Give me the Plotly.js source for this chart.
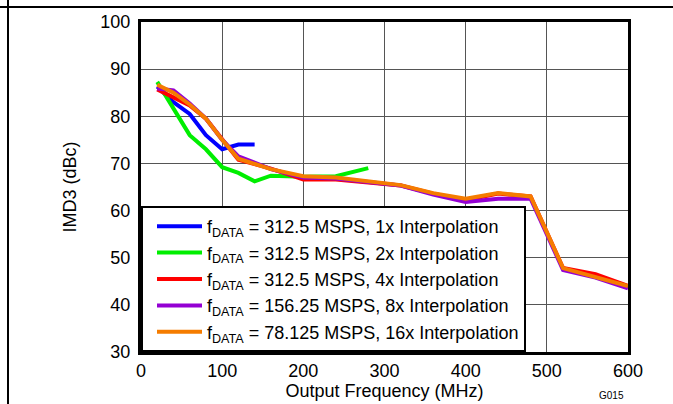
<!DOCTYPE html>
<html>
<head>
<meta charset="utf-8">
<script src="https://cdn.plot.ly/plotly-3.0.1.min.js"></script>
<style>
html,body{margin:0;padding:0;background:#fff;}
#chart{width:673px;height:404px;}
</style>
</head>
<body>
<div id="chart"></div>
<script>
// Output frequency (MHz)
const freqBlue = [20, 40, 60, 80, 100, 120, 140];
const imdBlue = [86.3, 83, 80.5, 76, 73, 74, 74];

const freqGreen = [20, 40, 60, 80, 100, 120, 140, 160, 200, 240, 280];
const imdGreen = [87.3, 81.5, 76, 73, 69.2, 68, 66.2, 67.4, 67.2, 67.3, 69];

const freqRed = [20, 40, 60, 80, 100, 120, 160, 200, 240, 280, 320, 360, 400, 440, 480, 520, 560, 600];
const imdRed = [85.7, 84, 82.3, 79.5, 75.3, 70.8, 68.9, 66.6, 66.6, 66, 65.3, 63.6, 62.2, 63.6, 63, 47.8, 46.5, 44];

const freqPurple = [20, 40, 60, 80, 100, 120, 160, 200, 240, 280, 320, 360, 400, 440, 480, 520, 560, 600];
const imdPurple = [85.9, 85.5, 82.7, 79.5, 75, 71.5, 68.8, 67, 66.8, 66.1, 65.3, 63.4, 61.8, 62.5, 62.5, 47.4, 45.8, 43.5];

const freqOrange = [20, 40, 60, 80, 100, 120, 160, 200, 240, 280, 320, 360, 400, 440, 480, 520, 560, 600];
const imdOrange = [86.7, 85, 82.5, 79.5, 75, 71, 68.8, 67.3, 67, 66.2, 65.4, 63.7, 62.5, 63.7, 63, 47.8, 45.9, 44];

const seriesNames = [
  "f<sub>DATA</sub> = 312.5 MSPS, 1x Interpolation",
  "f<sub>DATA</sub> = 312.5 MSPS, 2x Interpolation",
  "f<sub>DATA</sub> = 312.5 MSPS, 4x Interpolation",
  "f<sub>DATA</sub> = 156.25 MSPS, 8x Interpolation",
  "f<sub>DATA</sub> = 78.125 MSPS, 16x Interpolation"
];
const seriesColors = ["#0000ff", "#00ee00", "#ff0000", "#9400d3", "#f57c00"];

const xTicks = [0, 100, 200, 300, 400, 500, 600];
const yTicks = [30, 40, 50, 60, 70, 80, 90, 100];

const xs = [freqBlue, freqGreen, freqRed, freqPurple, freqOrange];
const ys = [imdBlue, imdGreen, imdRed, imdPurple, imdOrange];

const traces = xs.map((x, i) => ({
  x: x, y: ys[i], type: "scatter", mode: "lines",
  name: seriesNames[i],
  line: {color: seriesColors[i], width: 4}
}));

const layout = {
  width: 673, height: 404,
  margin: {l: 141, r: 45, t: 22, b: 52, pad: 0},
  paper_bgcolor: "#fff", plot_bgcolor: "#fff",
  font: {family: "Liberation Sans, Arial, sans-serif", size: 18, color: "#000"},
  showlegend: true,
  legend: {
    x: 0, y: 0, xanchor: "left", yanchor: "bottom",
    bgcolor: "#fff", bordercolor: "#000", borderwidth: 2,
    font: {size: 18, color: "#000"},
    itemwidth: 45, indentation: 9, tracegroupgap: 0,
    traceorder: "normal"
  },
  xaxis: {
    range: [0, 600], tickvals: xTicks, ticktext: xTicks.map(String),
    showgrid: true, gridcolor: "#555", gridwidth: 1,
    showline: true, linecolor: "#000", linewidth: 3, mirror: true,
    zeroline: false, ticks: "", ticklen: 0,
    title: {text: "Output Frequency (MHz)", font: {size: 18}, standoff: 0},
    tickfont: {size: 18}
  },
  yaxis: {
    range: [30, 100], tickvals: yTicks, ticktext: yTicks.map(String),
    showgrid: true, gridcolor: "#555", gridwidth: 1,
    showline: true, linecolor: "#000", linewidth: 3, mirror: true,
    zeroline: false, ticks: "", ticklen: 0, ticklabelstandoff: 4,
    title: {text: "IMD3 (dBc)", font: {size: 18}, standoff: 20},
    tickfont: {size: 18}
  },
  shapes: [
    {type: "line", xref: "paper", yref: "paper", x0: -141/487, x1: 1 + 45/487, y0: 1 + 15/330, y1: 1 + 15/330, line: {color: "#000", width: 2}},
    {type: "line", xref: "paper", yref: "paper", x0: -133/487, x1: -133/487, y0: -52/330, y1: 1 + 22/330, line: {color: "#000", width: 2}}
  ],
  annotations: [
    {text: "G015", xref: "paper", yref: "paper", x: (611-141)/487, y: -43/330, xanchor: "center", yanchor: "middle",
     showarrow: false, font: {size: 10, color: "#000"}}
  ]
};

Plotly.newPlot("chart", traces, layout, {staticPlot: true, displayModeBar: false});
</script>
</body>
</html>
